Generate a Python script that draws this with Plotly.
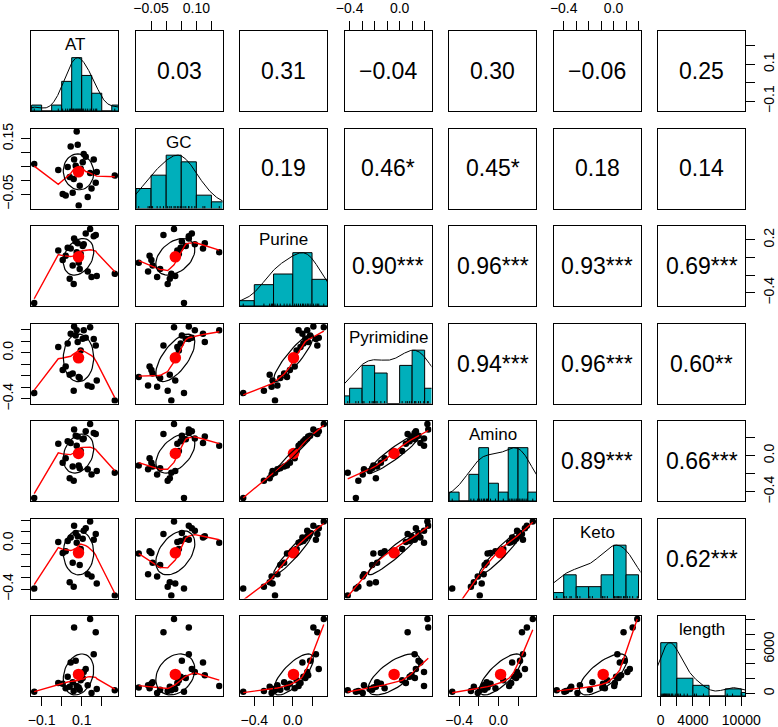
import numpy as np
import plotly.graph_objects as go

# variables of the scatterplot matrix (26 observations)
names = ["AT", "GC", "Purine", "Pyrimidine", "Amino", "Keto", "length"]

AT = [-0.137, 0.060, 0.040, 0.149, 0.175, 0.265, 0.130, 0.090, 0.055, 0.085, 0.005, 0.020, 0.095,
      0.075, -0.017, 0.045, 0.030, 0.105, 0.110, 0.080, 0.070, 0.062, 0.160, 0.170, 0.120, 0.142]
GC = [0.059, 0.005, 0.012, -0.030, 0.030, 0.017, -0.060, -0.020, -0.045, -0.091, -0.049, -0.055, 0.042,
      0.176, 0.037, 0.122, 0.048, 0.065, 0.095, 0.128, 0.052, 0.075, 0.075, -0.009, 0.085, 0.026]
Purine = [-0.515, -0.300, -0.240, -0.220, -0.210, -0.185, -0.160, -0.130, -0.090, -0.060, -0.030, 0.020, 0.040,
          0.060, 0.080, 0.100, 0.110, 0.130, 0.150, 0.160, 0.180, 0.214, 0.240, 0.255, 0.270, 0.322]
Pyrimidine = [-0.350, -0.330, -0.190, -0.295, -0.240, -0.415, -0.285, -0.220, -0.180, -0.210, -0.150, -0.120, 0.020,
              0.195, 0.050, 0.166, 0.080, 0.122, 0.195, 0.095, 0.151, 0.229, 0.120, 0.064, 0.130, 0.222]
Amino = [-0.470, -0.280, -0.250, -0.210, -0.170, -0.190, -0.150, -0.140, -0.120, -0.110, -0.080, -0.030, 0.050,
         0.110, 0.130, 0.140, 0.160, 0.180, 0.190, 0.210, 0.220, 0.290, 0.250, 0.240, 0.270, 0.350]
Keto = [-0.395, -0.380, -0.340, -0.290, -0.350, -0.456, -0.270, -0.190, -0.170, -0.090, -0.085, -0.070, -0.050,
        0.005, 0.010, 0.050, 0.020, 0.040, 0.110, 0.060, 0.090, 0.153, 0.030, 0.080, 0.130, 0.190]
length = [240, 350, 900, 60, 600, 450, 1100, 500, 1500, 800, 1300, 700, 1800,
          1000, 1400, 4200, 2250, 2100, 2900, 2450, 4425, 8917, 5306, 8257, 3300, 10062]

columns = [AT, GC, Purine, Pyrimidine, Amino, Keto, length]

# correlations printed in the upper panels, row by row
cor_text = [
    ["0.03", "0.31", "\u22120.04", "0.30", "\u22120.06", "0.25"],
    ["0.19", "0.46*", "0.45*", "0.18", "0.14"],
    ["0.90***", "0.96***", "0.93***", "0.69***"],
    ["0.94***", "0.96***", "0.60**"],
    ["0.89***", "0.66***"],
    ["0.62***"],
]

# histogram breaks on the diagonal
hist_breaks = [
    [-0.15, -0.10, -0.05, 0.00, 0.05, 0.10, 0.15, 0.20, 0.25, 0.30],
    [-0.10, -0.05, 0.00, 0.05, 0.10, 0.15, 0.20],
    [-0.6, -0.4, -0.2, 0.0, 0.2, 0.4],
    [-0.5, -0.4, -0.3, -0.2, -0.1, 0.0, 0.1, 0.2, 0.3],
    [-0.5, -0.4, -0.3, -0.2, -0.1, 0.0, 0.1, 0.2, 0.3, 0.4],
    [-0.5, -0.4, -0.3, -0.2, -0.1, 0.0, 0.1, 0.2],
    [0, 2000, 4000, 6000, 8000, 10000, 12000],
]

M = "\u2212"
tick_vals = [
    [-0.1, 0.0, 0.1, 0.2],
    [-0.05, 0.0, 0.05, 0.10, 0.15],
    [-0.4, -0.2, 0.0, 0.2],
    [-0.4, -0.3, -0.2, -0.1, 0.0, 0.1, 0.2],
    [-0.4, -0.2, 0.0, 0.2],
    [-0.4, -0.3, -0.2, -0.1, 0.0, 0.1, 0.2],
    [0, 2000, 4000, 6000, 8000, 10000],
]
# labels along the bottom / top edge (columns)
xtick_text = [
    [M + "0.1", "", "0.1", ""],
    [M + "0.05", "", "", "0.10", ""],
    [M + "0.4", "", "0.0", ""],
    [M + "0.4", "", "", "", "0.0", "", ""],
    [M + "0.4", "", "0.0", ""],
    [M + "0.4", "", "", "", "0.0", "", ""],
    ["0", "", "4000", "", "", "10000"],
]
# labels along the left / right edge (rows)
ytick_text = [
    [M + "0.1", "", "0.1", ""],
    [M + "0.05", "", "", "", "0.15"],
    [M + "0.4", "", "", "0.2"],
    [M + "0.4", "", "", "", "0.0", "", ""],
    [M + "0.4", "", "0.0", ""],
    [M + "0.4", "", "", "", "0.0", "", ""],
    ["0", "", "", "6000", "", ""],
]

HIST_COL = "#00AFBB"
FONT = "Liberation Sans, Arial, Helvetica, sans-serif"
N = len(names)


def lowess(x, y, f=2 / 3, iters=3):
    # port of R's clowess
    o = np.argsort(x, kind="mergesort")
    x = np.asarray(x, float)[o]
    y = np.asarray(y, float)[o]
    n = len(x)
    ns = max(2, min(n, int(f * n + 1e-7)))
    delta = 0.01 * (x[-1] - x[0])
    ys = np.zeros(n)
    rw = np.ones(n)

    def lowest(xs, nleft, nright, userw):
        rng = x[-1] - x[0]
        h = max(xs - x[nleft], x[nright] - xs)
        w = np.zeros(n)
        a = 0.0
        j = nleft
        while j < n:
            r = abs(x[j] - xs)
            if r <= 0.999 * h:
                w[j] = 1.0 if r <= 0.001 * h else (1 - (r / h) ** 3) ** 3
                if userw:
                    w[j] *= rw[j]
                a += w[j]
            elif x[j] > xs:
                break
            j += 1
        nrt = j - 1
        if a <= 0:
            return None
        sl = slice(nleft, nrt + 1)
        w[sl] /= a
        if h > 0:
            a = np.sum(w[sl] * x[sl])
            b = xs - a
            c = np.sum(w[sl] * (x[sl] - a) ** 2)
            if np.sqrt(c) > 0.001 * rng:
                b /= c
                w[sl] *= b * (x[sl] - a) + 1
        return np.sum(w[sl] * y[sl])

    for it in range(1, iters + 2):
        nleft, nright, last, i = 0, ns - 1, -1, 0
        while True:
            if nright < n - 1:
                if x[i] - x[nleft] > x[nright + 1] - x[i]:
                    nleft += 1
                    nright += 1
                    continue
            v = lowest(x[i], nleft, nright, it > 1)
            ys[i] = y[i] if v is None else v
            if last < i - 1:
                denom = x[i] - x[last]
                for j in range(last + 1, i):
                    al = (x[j] - x[last]) / denom
                    ys[j] = al * ys[i] + (1 - al) * ys[last]
            last = i
            cut = x[last] + delta
            i = last + 1
            while i < n:
                if x[i] > cut:
                    break
                if x[i] == x[last]:
                    ys[i] = ys[last]
                    last = i
                i += 1
            i = max(last + 1, i - 1)
            if last >= n - 1:
                break
        res = y - ys
        sc = np.mean(np.abs(res))
        if it > iters:
            break
        srt = np.sort(np.abs(res))
        m1 = n // 2
        cmad = 3 * (srt[m1] + srt[n - m1 - 1]) if n % 2 == 0 else 6 * srt[m1]
        if cmad < 1e-7 * sc:
            break
        r = np.abs(res)
        rw = np.where(r <= 0.001 * cmad, 1.0,
                      np.where(r <= 0.999 * cmad, (1 - (r / cmad) ** 2) ** 2, 0.0))
    return x, ys


def density_curve(v):
    v = np.asarray(v, float)
    q1, q3 = np.quantile(v, [0.25, 0.75])
    bw = 1.06 * min(np.std(v, ddof=1), (q3 - q1) / 1.34) * len(v) ** -0.2 * 1.2
    grid = np.linspace(v.min() - 3 * bw, v.max() + 3 * bw, 512)
    d = np.exp(-0.5 * ((grid[:, None] - v[None, :]) / bw) ** 2).sum(axis=1)
    return grid, d / d.max()


def ellipse(x, y, segments=51):
    x = np.asarray(x, float)
    y = np.asarray(y, float)
    r = np.corrcoef(x, y)[0, 1]
    th = np.sign(r) / np.sqrt(2) if abs(r) > 0 else 1 / np.sqrt(2)
    shape = np.diag([np.sqrt(1 + r), np.sqrt(1 - r)]) @ np.array([[th, th], [-th, th]])
    ang = np.arange(segments + 1) * 2 * np.pi / segments
    e = np.column_stack([np.cos(ang), np.sin(ang)]) @ shape
    return e[:, 0] * x.std(ddof=1) + x.mean(), e[:, 1] * y.std(ddof=1) + y.mean()


# R style plot ranges: data range extended by 4%
usr = []
for col in columns:
    lo, hi = min(col), max(col)
    usr.append([lo - 0.04 * (hi - lo), hi + 0.04 * (hi - lo)])

# panel geometry
W, H = 778, 727
ML, MR, MT, MB = 31, 33, 31, 31
PW, PH, GAP = 87, 80, 17.5
AW, AH = W - ML - MR, H - MT - MB


def xdom(j):
    x0 = j * (PW + GAP)
    return [x0 / AW, (x0 + PW) / AW]


def ydom(i):
    top = AH - i * (PH + GAP)
    return [(top - PH) / AH, top / AH]


def ref(k):
    return "" if k == 1 else str(k)


fig = go.Figure()
layout_axes = {}
annotations = []

box = dict(showline=True, mirror=True, linecolor="black", linewidth=1, automargin=False,
           showgrid=False, zeroline=False, ticks="", showticklabels=False, fixedrange=True)
tick_style = dict(ticks="outside", ticklen=9, tickwidth=1, tickcolor="black",
                  showticklabels=True, ticklabelstandoff=2,
                  tickfont=dict(family=FONT, size=14, color="black"))

for i in range(N):
    for j in range(N):
        k = i * N + j + 1
        xs, ys_ = "x" + ref(k), "y" + ref(k)
        xa = dict(domain=xdom(j), anchor=ys_, range=usr[j], **box)
        ya = dict(domain=ydom(i), anchor=xs, range=usr[i] if i != j else [0, 1.5], **box)

        if i == 0 and j % 2 == 1:
            xa.update(tick_style, side="top", tickvals=tick_vals[j], ticktext=xtick_text[j])
        if i == N - 1 and j % 2 == 0:
            xa.update(tick_style, side="bottom", tickvals=tick_vals[j], ticktext=xtick_text[j])
        if j == 0 and i % 2 == 1:
            ya.update(tick_style, side="left", tickvals=tick_vals[i], ticktext=ytick_text[i], tickangle=-90)
        if j == N - 1 and i % 2 == 0 and i != j:
            ya.update(tick_style, side="right", tickvals=tick_vals[i], ticktext=ytick_text[i], tickangle=-90)

        layout_axes["xaxis" + ref(k)] = xa
        layout_axes["yaxis" + ref(k)] = ya

        if i == j:
            v = np.asarray(columns[i], float)
            br = np.asarray(hist_breaks[i], float)
            counts, edges = np.histogram(v, bins=br)
            fig.add_trace(go.Bar(
                x=(edges[:-1] + edges[1:]) / 2, y=counts / counts.max(), width=np.diff(edges),
                marker=dict(color=HIST_COL, line=dict(color="black", width=1)),
                xaxis=xs, yaxis=ys_, hoverinfo="skip"))
            gx, gy = density_curve(v)
            fig.add_trace(go.Scatter(x=gx, y=gy, mode="lines", line=dict(color="black", width=1),
                                     xaxis=xs, yaxis=ys_, hoverinfo="skip"))
            rx, ry = [], []
            for val in v:
                rx += [val, val, None]
                ry += [0, 0.045, None]
            fig.add_trace(go.Scatter(x=rx, y=ry, mode="lines", line=dict(color="black", width=1),
                                     xaxis=xs, yaxis=ys_, hoverinfo="skip"))
            annotations.append(dict(text=names[i], x=0.5, y=0.83, xref=xs + " domain", yref=ys_ + " domain",
                                    showarrow=False, xanchor="center", yanchor="middle",
                                    font=dict(family=FONT, size=17, color="black")))
        elif i > j:
            xv, yv = columns[j], columns[i]
            fig.add_trace(go.Scatter(x=xv, y=yv, mode="markers",
                                     marker=dict(color="black", size=6.5),
                                     xaxis=xs, yaxis=ys_, hoverinfo="skip"))
            lx, ly = lowess(xv, yv)
            fig.add_trace(go.Scatter(x=lx, y=ly, mode="lines", line=dict(color="red", width=1.4),
                                     xaxis=xs, yaxis=ys_, hoverinfo="skip"))
            fig.add_trace(go.Scatter(x=[np.mean(xv)], y=[np.mean(yv)], mode="markers",
                                     marker=dict(color="red", size=11.5),
                                     xaxis=xs, yaxis=ys_, hoverinfo="skip"))
            ex, ey = ellipse(xv, yv)
            fig.add_trace(go.Scatter(x=ex, y=ey, mode="lines", line=dict(color="black", width=1.2),
                                     xaxis=xs, yaxis=ys_, hoverinfo="skip"))
        else:
            # empty panel: invisible points keep the subplot (box and axes) alive
            fig.add_trace(go.Scatter(x=columns[j], y=columns[i], mode="markers",
                                     marker=dict(opacity=0), xaxis=xs, yaxis=ys_, hoverinfo="skip"))
            annotations.append(dict(text=cor_text[i][j - i - 1], x=0.5, y=0.5,
                                    xref=xs + " domain", yref=ys_ + " domain",
                                    showarrow=False, xanchor="center", yanchor="middle",
                                    font=dict(family=FONT, size=23, color="black")))

# right-hand length scale for the last diagonal panel
kd = N * N
layout_axes["yaxis" + str(kd + 1)] = dict(
    overlaying="y" + str(kd), side="right", anchor="x" + str(kd), range=usr[N - 1],
    showgrid=False, zeroline=False, showline=False, automargin=False, fixedrange=True,
    tickvals=tick_vals[N - 1], ticktext=ytick_text[N - 1], tickangle=-90, **tick_style)
fig.add_trace(go.Scatter(x=length, y=length, mode="markers", marker=dict(opacity=0),
                         xaxis="x" + str(kd), yaxis="y" + str(kd + 1), hoverinfo="skip"))

fig.update_layout(
    width=W, height=H,
    margin=dict(l=ML, r=MR, t=MT, b=MB, autoexpand=False),
    paper_bgcolor="white", plot_bgcolor="white",
    showlegend=False,
    font=dict(family=FONT, color="black"),
    annotations=annotations,
    **layout_axes,
)

# the page body margin would push the figure off its 778x727 frame
fig.write_html("out.html", config={"displayModeBar": False},
               post_script="document.body.style.margin='0px';document.body.style.overflow='hidden';")
